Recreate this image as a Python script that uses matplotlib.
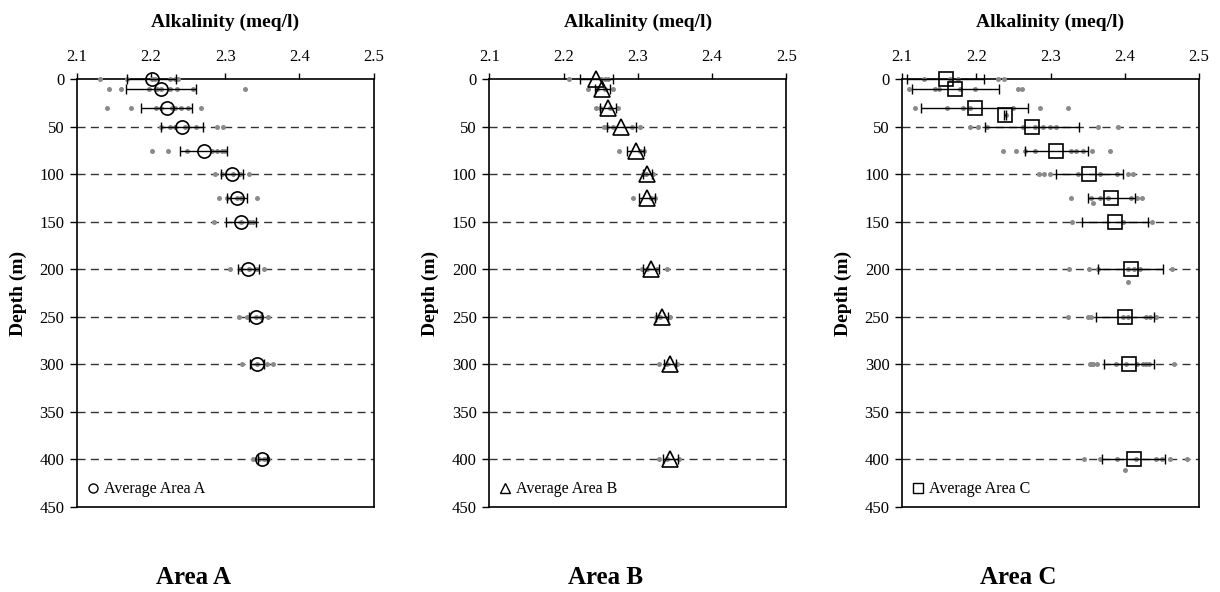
import matplotlib
matplotlib.use("Agg")
import matplotlib.pyplot as plt
from matplotlib.lines import Line2D

plt.rcParams['font.family'] = ['Liberation Serif', 'DejaVu Serif']

# ---------------- data ----------------
# Area A
depth_A = [0, 10, 30, 50, 75, 100, 125, 150, 200, 250, 300, 400]
mean_A = [2.201, 2.214, 2.221, 2.242, 2.271, 2.309, 2.316, 2.321, 2.331, 2.341, 2.343, 2.350]
sd_A = [0.033, 0.047, 0.034, 0.028, 0.032, 0.015, 0.014, 0.020, 0.014, 0.009, 0.009, 0.006]
dot_depth_A = [0, 10, 30, 50, 75, 100, 125, 150, 200, 250, 300, 400]
dot_vals_A = [
    [2.131, 2.168, 2.201, 2.205, 2.226, 2.232, 2.237],
    [2.144, 2.160, 2.197, 2.208, 2.214, 2.226, 2.235, 2.257, 2.327],
    [2.141, 2.173, 2.207, 2.214, 2.228, 2.232, 2.241, 2.250, 2.267],
    [2.213, 2.226, 2.233, 2.246, 2.260, 2.289, 2.297],
    [2.201, 2.223, 2.249, 2.282, 2.289, 2.296, 2.300],
    [2.286, 2.296, 2.311, 2.320, 2.332],
    [2.292, 2.303, 2.316, 2.321, 2.343],
    [2.285, 2.321, 2.334, 2.338],
    [2.307, 2.320, 2.332, 2.343, 2.352],
    [2.318, 2.330, 2.341, 2.348, 2.357],
    [2.323, 2.343, 2.356, 2.364],
    [2.337, 2.345, 2.352, 2.358],
]

# Area B
depth_B = [0, 10, 30, 50, 75, 100, 125, 200, 250, 300, 400]
mean_B = [2.244, 2.252, 2.260, 2.278, 2.297, 2.313, 2.312, 2.318, 2.333, 2.343, 2.344]
sd_B = [0.022, 0.010, 0.011, 0.019, 0.011, 0.006, 0.011, 0.011, 0.008, 0.008, 0.010]
dot_depth_B = [0, 10, 30, 50, 75, 100, 125, 200, 250, 300, 400]
dot_vals_B = [
    [2.207, 2.251, 2.256, 2.260],
    [2.233, 2.245, 2.256, 2.267],
    [2.244, 2.249, 2.262, 2.274],
    [2.254, 2.258, 2.267, 2.292, 2.303],
    [2.275, 2.303, 2.308],
    [2.307, 2.311, 2.321],
    [2.293, 2.318, 2.323],
    [2.305, 2.312, 2.326, 2.339],
    [2.325, 2.330, 2.343],
    [2.329, 2.339, 2.353],
    [2.329, 2.339, 2.356],
]

# Area C
depth_C = [0, 10, 30, 38, 50, 75, 100, 125, 150, 200, 250, 300, 400]
mean_C = [2.159, 2.172, 2.198, 2.239, 2.275, 2.308, 2.352, 2.382, 2.387, 2.408, 2.400, 2.406, 2.412]
sd_C = [0.052, 0.058, 0.072, 0.001, 0.063, 0.043, 0.045, 0.032, 0.044, 0.044, 0.039, 0.034, 0.042]
dot_depth_C = [0, 10, 30, 38, 50, 75, 100, 125, 130, 150, 200, 213, 250, 300, 400, 411]
dot_vals_C = [
    [2.129, 2.164, 2.176, 2.229, 2.238],
    [2.109, 2.145, 2.150, 2.178, 2.198, 2.256, 2.262],
    [2.118, 2.160, 2.182, 2.191, 2.250, 2.286, 2.323],
    [2.240],
    [2.191, 2.203, 2.214, 2.263, 2.279, 2.290, 2.299, 2.308, 2.364, 2.391],
    [2.236, 2.253, 2.266, 2.279, 2.328, 2.335, 2.344, 2.356, 2.380],
    [2.284, 2.291, 2.299, 2.337, 2.366, 2.389, 2.405, 2.411],
    [2.327, 2.354, 2.366, 2.377, 2.408, 2.416, 2.423],
    [2.357],
    [2.329, 2.398, 2.437],
    [2.325, 2.352, 2.364, 2.404, 2.413, 2.420, 2.464],
    [2.405],
    [2.323, 2.351, 2.355, 2.398, 2.405, 2.429, 2.434, 2.442],
    [2.353, 2.355, 2.357, 2.362, 2.388, 2.402, 2.416, 2.425, 2.429, 2.433, 2.467],
    [2.345, 2.366, 2.390, 2.415, 2.442, 2.450, 2.461, 2.484],
    [2.401],
]

x_ticks = [2.1, 2.2, 2.3, 2.4, 2.5]
y_ticks = [0, 50, 100, 150, 200, 250, 300, 350, 400, 450]
area_names = ["Area A", "Area B", "Area C"]
legend_labels = ["Average Area A", "Average Area B", "Average Area C"]
x_title = "Alkalinity (meq/l)"
y_title = "Depth (m)"

# ---------------- figure ----------------
W, H = 1220, 592
fig = plt.figure(figsize=(W / 100, H / 100), dpi=100)

panels = [
    (76.7, depth_A, mean_A, sd_A, dot_depth_A, dot_vals_A, 'o', 9.5),
    (489.3, depth_B, mean_B, sd_B, dot_depth_B, dot_vals_B, '^', 11),
    (902.0, depth_C, mean_C, sd_C, dot_depth_C, dot_vals_C, 's', 9.5),
]
legend_ms = {'o': 6.5, '^': 7.5, 's': 7}

ax_w = 297.0
ax_top, ax_bot = 79.3, 506.7

for i, (left_px, dep, mean, sd, ddep, dvals, mk, ms) in enumerate(panels):
    ax = fig.add_axes([left_px / W, 1 - ax_bot / H, ax_w / W, (ax_bot - ax_top) / H])
    ax.set_xlim(2.1, 2.5)
    ax.set_ylim(450, 0)
    ax.set_xticks(x_ticks)
    ax.set_xticklabels([f"{v:.1f}" for v in x_ticks])
    ax.set_yticks(y_ticks)
    ax.xaxis.tick_top()
    ax.xaxis.set_label_position('top')
    ax.tick_params(axis='x', direction='out', length=4, width=1, pad=6, labelsize=12)
    ax.tick_params(axis='y', direction='out', length=5, width=1, pad=4, labelsize=12)
    for s in ax.spines.values():
        s.set_linewidth(1.2)
        s.set_color('black')
        s.set_zorder(1)
    for yv in y_ticks[1:-1]:
        ax.axhline(yv, color='#333333', lw=1.0, ls=(0, (5.8, 3.8)), zorder=0.5)

    # individual samples
    for d, vals in zip(ddep, dvals):
        ax.plot(vals, [d] * len(vals), 'o', color='#8a8a8a', ms=3.6,
                mec='none', zorder=2, clip_on=False)
    # error bars
    eb = ax.errorbar(mean, dep, xerr=sd, fmt='none', ecolor='black',
                     elinewidth=1.0, capsize=3.5, capthick=1.0, zorder=3)
    for art in eb.lines[1] + eb.lines[2]:
        art.set_clip_on(False)
    # averages
    ax.plot(mean, dep, ls='none', marker=mk, ms=ms, mfc='none', mec='black',
            mew=1.2, zorder=4, clip_on=False)

    ax.set_xlabel(x_title, fontsize=14, fontweight='bold', labelpad=16)
    ax.set_ylabel(y_title, fontsize=14, fontweight='bold')
    ax.yaxis.set_label_coords(-50 / ax_w, 0.5)

    h = Line2D([], [], ls='none', marker=mk, ms=legend_ms[mk], mfc='none',
               mec='black', mew=1.0)
    ax.legend([h], [legend_labels[i]], loc='lower left', frameon=False,
              fontsize=11.5, handlelength=0.8, handletextpad=0.3,
              borderaxespad=0.2, bbox_to_anchor=(0.0, 0.0))

    fig.text((left_px + ax_w / 2 - 32) / W, 1 - 577 / H, area_names[i],
             ha='center', va='center', fontsize=18, fontweight='bold')

fig.savefig("out.png", dpi=100)
